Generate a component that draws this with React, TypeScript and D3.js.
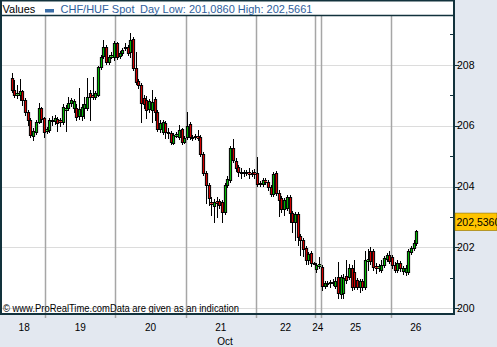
import React from 'react';
import * as d3 from 'd3';

// ---- data (CHF/HUF Spot, hourly candles) ----
const dayLabels = ['18', '19', '20', '21', '22', '24', '25', '26'];
const dayStart = [0, 13, 39, 65, 91, 113, 115, 141];
const monthLabel = 'Oct';
const yTicks = [200, 202, 204, 206, 208];
const yMinorTicks = [201, 203, 205, 207, 209];

const open = [
  // 18
  207.56, 207.17, 207.01, 207.01, 207.14, 206.84, 206.45, 206.18, 205.66, 205.79, 206.12, 206.58, 206.25,
  // 19
  205.82, 205.86, 206.15, 206.15, 206.22, 206.18, 206.12, 206.51, 206.58, 206.74, 206.58, 206.58, 206.32,
  206.32, 206.58, 206.58, 207.07, 207.01, 206.94, 207.01, 207.92, 208.29, 208.58, 208.09, 208.25, 208.25,
  // 20
  208.71, 208.29, 208.38, 208.58, 208.58, 208.42, 208.84, 207.89, 207.47, 207.33, 206.91, 206.84, 206.55,
  206.51, 206.87, 206.45, 205.89, 205.79, 206.09, 205.79, 205.76, 205.43, 205.66, 205.63, 205.89, 205.46,
  // 21
  205.63, 206.05, 205.63, 205.66, 205.66, 205.63, 205.07, 204.44, 204.05, 203.49, 203.36, 203.52, 203.52,
  203.49, 203.16, 204.05, 204.21, 205.26, 204.84, 204.64, 204.48, 204.44, 204.48, 204.48, 204.44, 204.48,
  // 22
  204.44, 204.11, 204.08, 204.21, 204.15, 203.98, 203.75, 204.44, 203.79, 203.62, 203.26, 203.29, 203.66,
  203.13, 202.83, 203.10, 202.37, 202.24, 201.98, 201.59, 201.82, 201.49,
  // 24
  201.29, 201.39,
  // 25
  201.36, 200.73, 200.80, 200.83, 200.86, 200.73, 201.03, 200.47, 200.50, 201.06, 201.03, 201.32, 201.19,
  200.93, 200.70, 200.90, 200.70, 201.55, 201.88, 201.88, 201.39, 201.32, 201.26, 201.42, 201.62, 201.75,
  // 26
  201.68, 201.42, 201.26, 201.49, 201.23, 201.19, 201.19, 201.85, 201.98, 202.14,
];

const close = [
  // 18
  207.17, 207.01, 207.07, 207.14, 206.84, 206.45, 206.18, 205.69, 205.82, 206.12, 206.58, 206.22, 205.79,
  // 19
  205.89, 206.18, 206.18, 206.25, 206.09, 206.12, 206.61, 206.58, 206.74, 206.84, 206.81, 206.28, 206.55,
  206.61, 206.71, 206.94, 206.94, 206.94, 207.07, 207.92, 208.25, 208.58, 208.09, 208.25, 208.32, 208.71,
  // 20
  208.25, 208.38, 208.48, 208.57, 208.38, 208.81, 207.89, 207.43, 207.33, 206.74, 206.71, 206.51, 206.81,
  206.78, 206.45, 205.89, 206.09, 206.12, 205.79, 205.78, 205.46, 205.69, 205.72, 205.86, 205.46, 205.59,
  // 21
  205.99, 205.63, 205.59, 205.63, 205.59, 205.07, 204.44, 204.05, 203.62, 203.43, 203.49, 203.46, 203.39,
  203.16, 204.05, 204.25, 205.26, 204.87, 204.61, 204.48, 204.44, 204.48, 204.44, 204.41, 204.45, 204.41,
  // 22
  204.08, 204.08, 204.21, 204.15, 203.98, 203.75, 204.41, 203.79, 203.56, 203.26, 203.56, 203.66, 203.13,
  202.83, 203.10, 202.34, 202.24, 201.95, 201.59, 201.78, 201.49, 201.48,
  // 24
  201.42, 201.45,
  // 25
  200.73, 200.83, 200.83, 200.86, 200.83, 200.90, 200.50, 201.03, 201.00, 200.93, 201.32, 200.70, 200.70,
  200.70, 200.90, 200.70, 201.59, 201.62, 201.55, 201.36, 201.32, 201.39, 201.42, 201.65, 201.75, 201.55,
  // 26
  201.42, 201.26, 201.49, 201.32, 201.32, 201.32, 201.88, 201.98, 202.14, 202.536,
];

const high = [
  // 18
  207.73, 207.50, 207.33, 207.53, 207.17, 206.91, 206.51, 206.25, 205.92, 206.18, 206.74, 206.61, 206.28,
  // 19
  205.95, 206.25, 206.32, 206.35, 206.28, 206.25, 206.71, 206.68, 206.94, 206.91, 206.87, 206.71, 207.24,
  206.71, 206.94, 207.56, 207.17, 207.60, 207.14, 207.96, 208.32, 208.81, 208.65, 208.32, 208.42, 208.78,
  // 20
  208.75, 208.45, 208.55, 208.71, 208.65, 209.04, 208.91, 208.42, 207.53, 207.40, 207.01, 206.97, 206.87,
  207.17, 206.94, 206.51, 206.18, 206.18, 206.15, 205.92, 205.82, 205.76, 205.79, 206.02, 205.92, 205.66,
  // 21
  206.45, 206.12, 205.69, 205.72, 205.86, 205.69, 205.13, 204.51, 204.11, 203.66, 203.59, 203.66, 203.59,
  203.56, 204.11, 204.34, 205.33, 205.56, 204.94, 204.71, 204.61, 204.54, 204.54, 204.61, 204.54, 204.57,
  // 22
  204.97, 204.18, 204.28, 204.28, 204.21, 204.05, 204.48, 204.51, 203.89, 203.69, 203.62, 203.72, 203.72,
  203.19, 203.16, 203.16, 202.44, 202.31, 202.04, 201.85, 201.88, 201.52,
  // 24
  201.49, 201.68,
  // 25
  201.42, 200.90, 200.90, 200.93, 200.96, 201.03, 201.52, 201.09, 201.13, 201.59, 201.45, 201.42, 201.59,
  201.00, 200.96, 200.96, 201.88, 201.95, 202.01, 201.95, 201.49, 201.45, 201.59, 201.72, 201.82, 201.88,
  // 26
  201.75, 201.52, 201.59, 201.55, 201.39, 201.42, 201.95, 202.04, 202.24, 202.5661,
];

const low = [
  // 18
  207.10, 206.94, 206.91, 206.84, 206.68, 206.35, 206.02, 205.63, 205.53, 205.72, 206.09, 206.12, 205.63,
  // 19
  205.76, 205.79, 206.02, 206.05, 205.82, 205.99, 206.05, 205.82, 206.51, 206.64, 206.45, 206.18, 206.22,
  206.18, 206.25, 206.51, 206.18, 206.87, 206.87, 206.97, 207.86, 208.22, 208.02, 208.02, 208.22, 208.15,
  // 20
  208.19, 208.22, 208.32, 208.48, 208.32, 208.25, 207.83, 207.37, 207.24, 206.12, 206.58, 206.25, 206.45,
  206.12, 206.18, 205.82, 205.79, 205.72, 205.59, 205.59, 205.40, 205.40, 205.63, 205.56, 205.40, 205.43,
  // 21
  205.56, 205.56, 205.53, 205.56, 205.53, 205.00, 204.38, 203.46, 203.39, 203.06, 202.83, 203.00, 203.29,
  202.83, 203.10, 203.98, 204.15, 204.80, 204.51, 204.34, 204.28, 204.34, 204.38, 204.28, 204.34, 204.28,
  // 22
  204.02, 204.02, 204.02, 204.08, 203.89, 203.69, 203.69, 203.72, 203.03, 203.16, 203.06, 203.23, 202.83,
  202.50, 202.24, 202.08, 201.75, 201.72, 201.45, 201.45, 201.39, 201.45,
  // 24
  201.19, 201.32,
  // 25
  200.60, 200.67, 200.73, 200.70, 200.77, 200.67, 200.34, 200.34, 200.34, 200.83, 200.96, 200.60, 200.63,
  200.63, 200.54, 200.60, 200.63, 201.26, 201.45, 201.26, 201.16, 201.23, 201.19, 201.36, 201.55, 201.49,
  // 26
  201.32, 201.19, 201.19, 201.23, 201.13, 201.086, 201.13, 201.78, 201.91, 202.08,
];

// ---- layout ----
const W = 497;
const H = 347;
const frameRight = 455;
const frameBottom = 315;
const headerY = 15.5;
const plotLeft = 3;
const plotRight = 441;
const FONT = '"Liberation Sans", Arial, sans-serif';
const BLUE = '#2E5E9C';
const FRAME = '#12323C';

const fmt = (v: number) => d3.format('.4f')(v).replace('.', ',');

export default function App() {
  const n = open.length;
  const x = d3.scaleLinear().domain([dayStart[1], dayStart[7]]).range([45.3, 390.7]);
  const y = d3.scaleLinear().domain([200, 210]).range([308.3, 3.8]);

  const lastDay = dayStart[dayStart.length - 1];
  const dayLow = d3.min(low.slice(lastDay)) as number;
  const dayHigh = d3.max(high.slice(lastDay)) as number;
  const last = close[n - 1];

  const candles = d3.range(n).map((i) => {
    const px = Math.round(x(i + 0.5));
    const o = open[i];
    const c = close[i];
    const top = Math.round(y(Math.max(o, c)));
    const bot = Math.round(y(Math.min(o, c)));
    return {
      i,
      px,
      up: c >= o,
      top,
      h: Math.max(1, bot - top),
      hi: Math.round(y(high[i])),
      lo: Math.round(y(low[i])),
    };
  });

  const seps = dayStart.slice(1).map((s) => Math.round(x(s)) + 0.5);
  const labelX = dayLabels.map((_, k) => {
    const a = k === 0 ? plotLeft : x(dayStart[k]);
    const b = k === dayLabels.length - 1 ? plotRight : x(dayStart[k + 1]);
    return (a + b) / 2;
  });

  const lastY = y(last);

  return (
    <svg
      width={W}
      height={H}
      style={{ position: 'absolute', left: 0, top: 0, display: 'block' }}
      fontFamily={FONT}
    >
      <rect x={0} y={0} width={W} height={H} fill="#E3E8F0" />
      <rect x={0} y={0} width={frameRight} height={frameBottom} fill="#FFFFFF" />

      {/* horizontal grid */}
      {yTicks.map((t) => (
        <line key={'g' + t} x1={2} x2={frameRight - 1} y1={Math.round(y(t)) + 0.5} y2={Math.round(y(t)) + 0.5} stroke="#DCDCDC" />
      ))}

      {/* day separators */}
      {seps.map((sx, k) => (
        <line key={'s' + k} x1={sx} x2={sx} y1={headerY} y2={frameBottom + 3} stroke="#A6A6A6" strokeWidth={1.5} />
      ))}

      {/* candles */}
      {candles.map((d) => (
        <g key={d.i}>
          <line x1={d.px + 0.5} x2={d.px + 0.5} y1={d.hi} y2={d.lo + 1} stroke="#000" strokeWidth={1} />
          <rect
            x={d.px - 0.6}
            y={d.top + 0.5}
            width={2.2}
            height={d.h}
            fill={d.up ? '#00B400' : '#D00000'}
            stroke="#000"
            strokeWidth={1}
          />
        </g>
      ))}

      {/* copyright */}
      <text x={3} y={312} fontSize={10} fill="#000" textLength={236} lengthAdjust="spacingAndGlyphs">
        © www.ProRealTime.comData are given as an indication
      </text>

      {/* header */}
      <rect x={0} y={0} width={frameRight} height={headerY} fill="#FFFFFF" />
      <line x1={0} x2={frameRight} y1={headerY} y2={headerY} stroke={FRAME} strokeWidth={1.3} />
      <text x={2.5} y={13} fontSize={11} fill="#000">Values</text>
      <rect x={45} y={9} width={9} height={3.5} fill="#3A6EA8" />
      <text x={60.5} y={13} fontSize={11} fill={BLUE}>CHF/HUF Spot</text>
      <text x={140} y={13} fontSize={11} fill={BLUE}>
        {`Day Low: ${fmt(dayLow)} High: ${fmt(dayHigh)}`}
      </text>

      {/* frame */}
      <line x1={1} x2={1} y1={0} y2={frameBottom} stroke={FRAME} strokeWidth={2} />
      <line x1={0} x2={frameRight} y1={0.75} y2={0.75} stroke={FRAME} strokeWidth={1.5} />
      <line x1={frameRight - 1} x2={frameRight - 1} y1={0} y2={frameBottom} stroke={FRAME} strokeWidth={2} />
      <line x1={0} x2={frameRight} y1={frameBottom - 1} y2={frameBottom - 1} stroke={FRAME} strokeWidth={2} />

      {/* right axis */}
      {yTicks.map((t) => (
        <g key={'t' + t}>
          <line x1={frameRight} x2={frameRight + 4} y1={Math.round(y(t)) + 0.5} y2={Math.round(y(t)) + 0.5} stroke={FRAME} />
          <text x={457} y={y(t) + 3.8} fontSize={10.5} fill="#000">{t}</text>
        </g>
      ))}
      {yMinorTicks.map((t) => (
        <line key={'m' + t} x1={frameRight - 5} x2={frameRight - 1} y1={Math.round(y(t)) + 0.5} y2={Math.round(y(t)) + 0.5} stroke={FRAME} />
      ))}

      {/* last price label */}
      <rect x={frameRight} y={lastY - 18} width={W - frameRight} height={17.5} fill="#FFC400" stroke="#8C7000" strokeWidth={0.6} />
      <text x={456.5} y={lastY - 5} fontSize={10.5} fill="#000">{fmt(last)}</text>

      {/* bottom axis */}
      {dayLabels.map((lab, k) => (
        <text key={'d' + lab} x={labelX[k]} y={330.5} fontSize={10} textAnchor="middle" fill="#000">{lab}</text>
      ))}
      <text x={225} y={345} fontSize={10} textAnchor="middle" fill="#000">{monthLabel}</text>
    </svg>
  );
}
